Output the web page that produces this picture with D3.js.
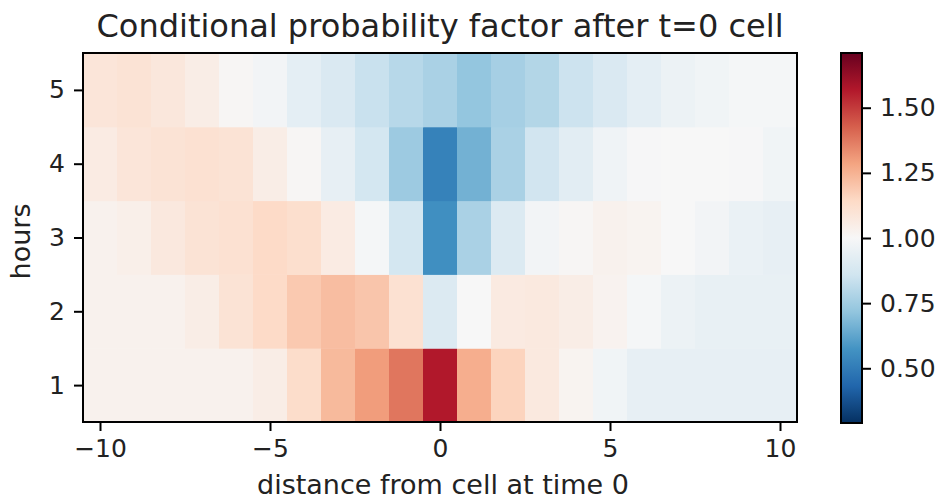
<!DOCTYPE html>
<html>
<head>
<meta charset="utf-8">
<script src="https://cdn.jsdelivr.net/npm/d3@7"></script>
<style>
  body { margin: 0; background: #fff; }
  svg { display: block; font-family: "DejaVu Sans", sans-serif; }
</style>
</head>
<body>
<svg id="chart" width="940" height="501"></svg>
<script>
// distance from cell at time 0 (columns) and hours (rows)
var distances = [-10, -9, -8, -7, -6, -5, -4, -3, -2, -1, 0, 1, 2, 3, 4, 5, 6, 7, 8, 9, 10];
var hours = [1, 2, 3, 4, 5];

// conditional probability factor, one array per hour
var hour1 = [1.03, 1.03, 1.03, 1.03, 1.03, 1.05, 1.13, 1.23, 1.30, 1.38, 1.57, 1.26, 1.16, 1.07, 1.02, 0.975, 0.94, 0.94, 0.94, 0.94, 0.94];
var hour2 = [1.03, 1.03, 1.03, 1.05, 1.10, 1.14, 1.19, 1.22, 1.20, 1.11, 0.90, 1.00, 1.065, 1.07, 1.05, 1.025, 0.99, 0.96, 0.945, 0.945, 0.945];
var hour3 = [1.03, 1.04, 1.075, 1.10, 1.11, 1.14, 1.12, 1.06, 0.99, 0.87, 0.56, 0.77, 0.90, 0.98, 1.01, 1.03, 1.02, 1.00, 0.98, 0.95, 0.94];
var hour4 = [1.06, 1.09, 1.10, 1.11, 1.10, 1.05, 1.01, 0.94, 0.87, 0.74, 0.52, 0.66, 0.77, 0.86, 0.92, 0.97, 0.995, 1.00, 1.00, 0.995, 0.975];
var hour5 = [1.09, 1.10, 1.08, 1.05, 1.01, 0.98, 0.93, 0.89, 0.84, 0.80, 0.77, 0.72, 0.76, 0.79, 0.85, 0.89, 0.93, 0.96, 0.975, 0.99, 0.99];

var xTicks = [-10, -5, 0, 5, 10];
var yTicks = [1, 2, 3, 4, 5];
var cbarTicks = [0.5, 0.75, 1.0, 1.25, 1.5];
var colorRange = [0.29, 1.71];

// RdBu_r colour stops
var rdbu = ["#053061", "#2166ac", "#4393c3", "#92c5de", "#d1e5f0", "#f7f7f7",
            "#fddbc7", "#f4a582", "#d6604d", "#b2182b", "#67001f"];

var rows = [hour1, hour2, hour3, hour4, hour5];
var svg = d3.select("#chart");

var plotL = 83, plotR = 797, plotT = 53, plotB = 422;
var x = d3.scaleLinear().domain([-10.5, 10.5]).range([plotL, plotR]);
var y = d3.scaleLinear().domain([0.5, 5.5]).range([plotB, plotT]);

var stopVals = rdbu.map(function (c, i) {
    return colorRange[0] + (colorRange[1] - colorRange[0]) * i / (rdbu.length - 1);
});
var color = d3.scaleLinear().domain(stopVals).range(rdbu)
    .interpolate(d3.interpolateRgb).clamp(true);

var cells = [];
rows.forEach(function (r, i) {
    r.forEach(function (v, j) {
        cells.push({h: hours[i], d: distances[j], v: v});
    });
});

svg.append("g").selectAll("rect")
    .data(cells)
    .join("rect")
    .attr("x", function (c) { return x(c.d - 0.5); })
    .attr("y", function (c) { return y(c.h + 0.5); })
    .attr("width", function (c) { return x(c.d + 0.5) - x(c.d - 0.5) + 0.5; })
    .attr("height", function (c) { return y(c.h - 0.5) - y(c.h + 0.5) + 0.5; })
    .attr("fill", function (c) { return color(c.v); });

svg.append("rect")
    .attr("x", plotL).attr("y", plotT)
    .attr("width", plotR - plotL).attr("height", plotB - plotT)
    .attr("fill", "none").attr("stroke", "#000").attr("stroke-width", 2);

var fmtMinus = function (d) { return d < 0 ? "\u2212" + Math.abs(d) : String(d); };

var xAxis = svg.append("g")
    .attr("transform", "translate(0," + plotB + ")")
    .call(d3.axisBottom(x).tickValues(xTicks).tickFormat(fmtMinus).tickSize(9).tickPadding(8));
var yAxis = svg.append("g")
    .attr("transform", "translate(" + plotL + ",0)")
    .call(d3.axisLeft(y).tickValues(yTicks).tickFormat(d3.format("d")).tickSize(9).tickPadding(9));

[xAxis, yAxis].forEach(function (a) {
    a.select(".domain").remove();
    a.selectAll(".tick line").attr("stroke", "#000").attr("stroke-width", 2);
    a.selectAll(".tick text").attr("fill", "#222").style("font-size", "25px")
        .style("font-family", "DejaVu Sans");
});

// colorbar
var cbX = 841, cbW = 21, cbTop = 53, cbBottom = 423;
var cy = d3.scaleLinear().domain(colorRange).range([cbBottom, cbTop]);
var grad = svg.append("defs").append("linearGradient")
    .attr("id", "cbgrad").attr("x1", 0).attr("y1", 1).attr("x2", 0).attr("y2", 0);
grad.selectAll("stop").data(rdbu).join("stop")
    .attr("offset", function (c, i) { return i / (rdbu.length - 1); })
    .attr("stop-color", function (c) { return c; });
svg.append("rect")
    .attr("x", cbX).attr("y", cbTop).attr("width", cbW).attr("height", cbBottom - cbTop)
    .attr("fill", "url(#cbgrad)").attr("stroke", "#000").attr("stroke-width", 2);
var cAxis = svg.append("g")
    .attr("transform", "translate(" + (cbX + cbW) + ",0)")
    .call(d3.axisRight(cy).tickValues(cbarTicks).tickFormat(d3.format(".2f")).tickSize(9).tickPadding(9));
cAxis.select(".domain").remove();
cAxis.selectAll(".tick line").attr("stroke", "#000").attr("stroke-width", 2);
cAxis.selectAll(".tick text").attr("fill", "#222").style("font-size", "25px")
    .style("font-family", "DejaVu Sans");

// titles
svg.append("text")
    .attr("x", (plotL + plotR) / 2).attr("y", 37)
    .attr("text-anchor", "middle").attr("fill", "#222")
    .style("font-size", "32px")
    .text("Conditional probability factor after t=0 cell");
svg.append("text")
    .attr("x", (plotL + plotR) / 2 + 3).attr("y", 494)
    .attr("text-anchor", "middle").attr("fill", "#222")
    .style("font-size", "27px")
    .text("distance from cell at time 0");
svg.append("text")
    .attr("transform", "translate(30," + ((plotT + plotB) / 2 + 4) + ") rotate(-90)")
    .attr("text-anchor", "middle").attr("fill", "#222")
    .style("font-size", "27px")
    .text("hours");
</script>
</body>
</html>
